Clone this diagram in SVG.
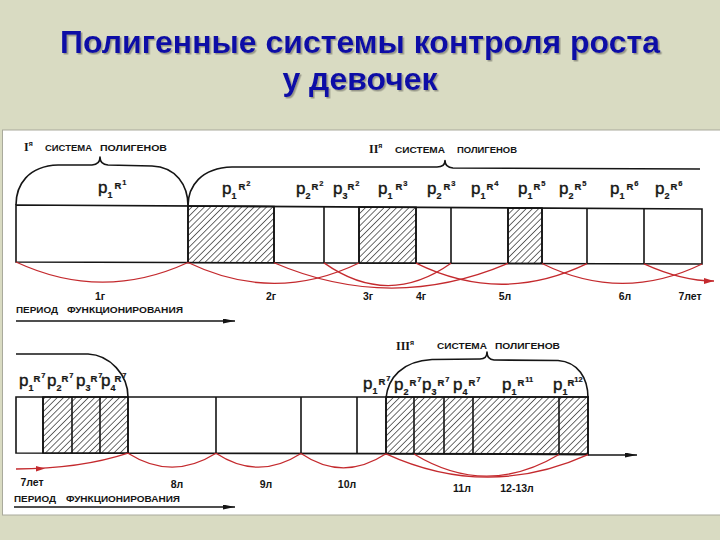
<svg xmlns="http://www.w3.org/2000/svg" width="720" height="540" viewBox="0 0 720 540">
<defs>
<style>
.ln{stroke:#151515;stroke-width:1.6;fill:none;stroke-linejoin:round}
.cell{stroke:#151515;stroke-width:1.6;fill:#fff}
.hat{stroke:#151515;stroke-width:1.6;fill:url(#hatch)}
.red{stroke:#c42a2e;stroke-width:1.3;fill:none}
.p{font-family:"Liberation Sans",Arial,sans-serif;font-size:17px;fill:#151515;stroke:#151515;stroke-width:0.4}
.sub{font-size:9px;font-weight:bold;stroke-width:0.2}
.R{font-size:9.5px;font-weight:bold;stroke-width:0.2}
.sup{font-size:7.5px;font-weight:bold;stroke-width:0.2}
.cap{font-family:"Liberation Sans",Arial,sans-serif;font-size:9.5px;font-weight:bold;fill:#151515}
.rom{font-family:"Liberation Serif","Times New Roman",serif;font-size:12px;font-weight:bold;fill:#151515}
.yr{font-family:"Liberation Sans",Arial,sans-serif;font-size:10.5px;font-weight:bold;fill:#151515;text-anchor:middle}
.ttl{font-family:"Liberation Sans",Arial,sans-serif;font-size:32px;font-weight:bold;fill:#0c0ca6;text-anchor:middle}
</style>
<pattern id="hatch" patternUnits="userSpaceOnUse" width="4.4" height="10" patternTransform="rotate(45)">
<line x1="0" y1="0" x2="0" y2="10" stroke="#151515" stroke-width="1.25"/>
</pattern>
<marker id="ab" viewBox="0 0 12 5" refX="12" refY="2.5" markerWidth="12" markerHeight="5" markerUnits="userSpaceOnUse" orient="auto"><path d="M0,0 L12,2.5 L0,5 Z" fill="#151515"/></marker>
<marker id="ar" viewBox="0 0 10 6" refX="10" refY="3" markerWidth="10" markerHeight="6" markerUnits="userSpaceOnUse" orient="auto"><path d="M0,0 L10,3 L0,6 Z" fill="#c42a2e"/></marker>
<filter id="sh" x="-5%" y="-20%" width="110%" height="140%"><feDropShadow dx="1.5" dy="1.5" stdDeviation="0.6" flood-color="#7a7a70" flood-opacity="0.7"/></filter>
</defs>

<rect x="0" y="0" width="720" height="540" fill="#d9dbc2"/>

<g id="title" filter="url(#sh)">
<text class="ttl" x="360" y="53">Полигенные системы контроля роста</text>
<text class="ttl" x="360" y="90">у девочек</text>
</g>

<rect id="panel" x="2.5" y="130" width="718" height="385" fill="#fff" stroke="#a9aa9c" stroke-width="1"/>

<g id="row1">
<polygon class="cell" points="16,205 702,209 702,264 16,262"/>
<polygon class="hat" points="188,206 274,206.5 274,262.75 188,262.5"/>
<polygon class="hat" points="359,207 416,207.3 416,263.2 359,263"/>
<polygon class="hat" points="508,207.9 542,208.1 542,263.5 508,263.4"/>
<path class="ln" d="M188,206V262.5 M274,206.5V262.75 M324,206.8V262.9 M359,207V263 M416,207.3V263.2 M451,207.5V263.3 M508,207.9V263.4 M542,208.1V263.5 M587,208.3V263.7 M644,208.7V263.8"/>
</g>

<g id="row2">
<polygon class="cell" points="16,397 588,397 588,454 16,453"/>
<polygon class="hat" points="43,397 128,397 128,453.2 43,453"/>
<polygon class="hat" points="386,397 588,397 588,454.6 386,453.8"/>
<path class="ln" d="M43,397V453 M72,397V453 M100,397V453 M128,397V453.2 M216,397V453.3 M301,397V453.5 M357,397V453.7 M386,397V453.8 M414,397V454 M444,397V454.1 M473,397V454.2 M559,397V454.5"/>
<path class="ln" d="M588,455 L637,455" marker-end="url(#ab)"/>
</g>

<g id="system1">
<path class="ln" d="M16,205 C16,185 28,166 58,165 L92,165 Q100,164.5 100,157 Q100,164.5 108,165 L152,166 C176,167 188,185 188,206"/>
<text class="rom" x="24" y="151">I<tspan font-family="Liberation Sans,Arial,sans-serif" font-size="7" dy="-5">я</tspan></text>
<text class="cap" y="151"><tspan x="45" textLength="47" lengthAdjust="spacingAndGlyphs">СИСТЕМА</tspan><tspan x="100" textLength="67" lengthAdjust="spacingAndGlyphs">ПОЛИГЕНОВ</tspan></text>
</g>

<g id="system2">
<path class="ln" d="M188,206 C188,186 201,168 232,167 L437,167 Q445,167 445,160.5 Q445,167.5 453,168 L700,169"/>
<text class="rom" x="369" y="153">II<tspan font-family="Liberation Sans,Arial,sans-serif" font-size="7" dy="-5">я</tspan></text>
<text class="cap" y="153"><tspan x="395" textLength="50" lengthAdjust="spacingAndGlyphs">СИСТЕМА</tspan><tspan x="457" textLength="60" lengthAdjust="spacingAndGlyphs">ПОЛИГЕНОВ</tspan></text>
</g>

<g id="system2end">
<path class="ln" d="M16,354 L88,354 C110,355 128,375 128,397"/>
</g>

<g id="system3">
<path class="ln" d="M386,398 C388,378 402,361 432,359.5 L480,359 Q487,359 487,352 Q487,359.5 494,360 L558,360.5 C578,362 588,378 588,398"/>
<text class="rom" x="396" y="350">III<tspan font-family="Liberation Sans,Arial,sans-serif" font-size="7" dy="-5">я</tspan></text>
<text class="cap" y="349"><tspan x="437" textLength="50" lengthAdjust="spacingAndGlyphs">СИСТЕМА</tspan><tspan x="495" textLength="65" lengthAdjust="spacingAndGlyphs">ПОЛИГЕНОВ</tspan></text>
</g>

<g id="genes1">
<text class="p" x="98" y="193">p<tspan class="sub" dy="5">1</tspan><tspan class="R" dx="2" dy="-9">R</tspan><tspan class="sup" dx="1" dy="-4">1</tspan></text>
<text class="p" x="222" y="194">p<tspan class="sub" dy="5">1</tspan><tspan class="R" dx="2" dy="-9">R</tspan><tspan class="sup" dx="1" dy="-4">2</tspan></text>
<text class="p" x="296" y="194">p<tspan class="sub" dy="5">2</tspan><tspan class="R" dx="1" dy="-9">R</tspan><tspan class="sup" dx="1" dy="-4">2</tspan></text>
<text class="p" x="333" y="194">p<tspan class="sub" dy="5">3</tspan><tspan class="R" dx="0" dy="-9">R</tspan><tspan class="sup" dx="1" dy="-4">2</tspan></text>
<text class="p" x="378" y="194">p<tspan class="sub" dy="5">1</tspan><tspan class="R" dx="3" dy="-9">R</tspan><tspan class="sup" dx="1" dy="-4">3</tspan></text>
<text class="p" x="427" y="194">p<tspan class="sub" dy="5">2</tspan><tspan class="R" dx="2" dy="-9">R</tspan><tspan class="sup" dx="1" dy="-4">3</tspan></text>
<text class="p" x="471" y="194">p<tspan class="sub" dy="5">1</tspan><tspan class="R" dx="1" dy="-9">R</tspan><tspan class="sup" dx="1" dy="-4">4</tspan></text>
<text class="p" x="518" y="194">p<tspan class="sub" dy="5">1</tspan><tspan class="R" dx="1" dy="-9">R</tspan><tspan class="sup" dx="1" dy="-4">5</tspan></text>
<text class="p" x="559" y="194">p<tspan class="sub" dy="5">2</tspan><tspan class="R" dx="1" dy="-9">R</tspan><tspan class="sup" dx="1" dy="-4">5</tspan></text>
<text class="p" x="610" y="194">p<tspan class="sub" dy="5">1</tspan><tspan class="R" dx="2" dy="-9">R</tspan><tspan class="sup" dx="1" dy="-4">6</tspan></text>
<text class="p" x="655" y="194">p<tspan class="sub" dy="5">2</tspan><tspan class="R" dx="1" dy="-9">R</tspan><tspan class="sup" dx="1" dy="-4">6</tspan></text>
</g>

<g id="genes2">
<text class="p" x="19" y="386">p<tspan class="sub" dy="5">1</tspan><tspan class="R" dx="0" dy="-9">R</tspan><tspan class="sup" dx="1" dy="-4">7</tspan></text>
<text class="p" x="47" y="386">p<tspan class="sub" dy="5">2</tspan><tspan class="R" dx="0" dy="-9">R</tspan><tspan class="sup" dx="1" dy="-4">7</tspan></text>
<text class="p" x="76" y="386">p<tspan class="sub" dy="5">3</tspan><tspan class="R" dx="0" dy="-9">R</tspan><tspan class="sup" dx="1" dy="-4">7</tspan></text>
<text class="p" x="101" y="386">p<tspan class="sub" dy="5">4</tspan><tspan class="R" dx="-1" dy="-9">R</tspan><tspan class="sup" dx="1" dy="-4">7</tspan></text>
<text class="p" x="363" y="389">p<tspan class="sub" dy="5">1</tspan><tspan class="R" dx="1" dy="-9">R</tspan><tspan class="sup" dx="1" dy="-4">7</tspan></text>
<text class="p" x="394" y="390">p<tspan class="sub" dy="5">2</tspan><tspan class="R" dx="1" dy="-9">R</tspan><tspan class="sup" dx="1" dy="-4">7</tspan></text>
<text class="p" x="422" y="390">p<tspan class="sub" dy="5">3</tspan><tspan class="R" dx="1" dy="-9">R</tspan><tspan class="sup" dx="1" dy="-4">7</tspan></text>
<text class="p" x="453" y="390">p<tspan class="sub" dy="5">4</tspan><tspan class="R" dx="1" dy="-9">R</tspan><tspan class="sup" dx="1" dy="-4">7</tspan></text>
<text class="p" x="502" y="390">p<tspan class="sub" dy="5">1</tspan><tspan class="R" dx="1" dy="-9">R</tspan><tspan class="sup" dx="1" dy="-4">11</tspan></text>
<text class="p" x="553" y="390">p<tspan class="sub" dy="5">1</tspan><tspan class="R" dx="0" dy="-9">R</tspan><tspan class="sup" dx="0" dy="-4">12</tspan></text>
</g>

<g id="ages">
<text class="yr" x="100" y="300">1г</text>
<text class="yr" x="271" y="300">2г</text>
<text class="yr" x="368" y="300">3г</text>
<text class="yr" x="421" y="300">4г</text>
<text class="yr" x="505" y="300">5л</text>
<text class="yr" x="625" y="300">6л</text>
<text class="yr" x="690" y="300">7лет</text>
<text class="yr" x="32" y="486">7лет</text>
<text class="yr" x="177" y="488">8л</text>
<text class="yr" x="266" y="488">9л</text>
<text class="yr" x="347" y="488">10л</text>
<text class="yr" x="462" y="492">11л</text>
<text class="yr" x="517" y="492">12-13л</text>
</g>

<g id="period">
<text class="cap" y="313"><tspan x="16" textLength="42" lengthAdjust="spacingAndGlyphs">ПЕРИОД</tspan><tspan x="67" textLength="116" lengthAdjust="spacingAndGlyphs">ФУНКЦИОНИРОВАНИЯ</tspan></text>
<path class="ln" d="M16,321 L235,321" stroke-width="1.4" marker-end="url(#ab)"/>
<text class="cap" y="502"><tspan x="14" textLength="42" lengthAdjust="spacingAndGlyphs">ПЕРИОД</tspan><tspan x="66" textLength="114" lengthAdjust="spacingAndGlyphs">ФУНКЦИОНИРОВАНИЯ</tspan></text>
<path class="ln" d="M14,507 L235,507" stroke-width="1.4" marker-end="url(#ab)"/>
</g>

<g id="connectors">
<path class="red" d="M16,262 Q102,302 188,262.5"/>
<path class="red" d="M188,262.5 Q274,304 359,263"/>
<path class="red" d="M274,262.75 Q391,313 508,263.4"/>
<path class="red" d="M324,262.9 Q388,308 451,263.3"/>
<path class="red" d="M416,263.2 Q501,305 587,263.7"/>
<path class="red" d="M542,263.5 Q622,303 702,264"/>
<path class="red" d="M644,263.8 Q682,281 714,281" marker-end="url(#ar)"/>
<path class="red" d="M16,469 Q80,469 128,453.2"/>
<polygon points="45,468.6 36,466 36,471.4" fill="#c42a2e"/>
<path class="red" d="M128,453.2 Q172,481 216,453.3"/>
<path class="red" d="M216,453.3 Q258,481 301,453.5"/>
<path class="red" d="M301,453.5 Q343,482 386,453.8"/>
<path class="red" d="M386,453.8 Q487,500 588,454.6"/>
<path class="red" d="M414,454 Q486,498 559,454.5"/>
</g>
</svg>
